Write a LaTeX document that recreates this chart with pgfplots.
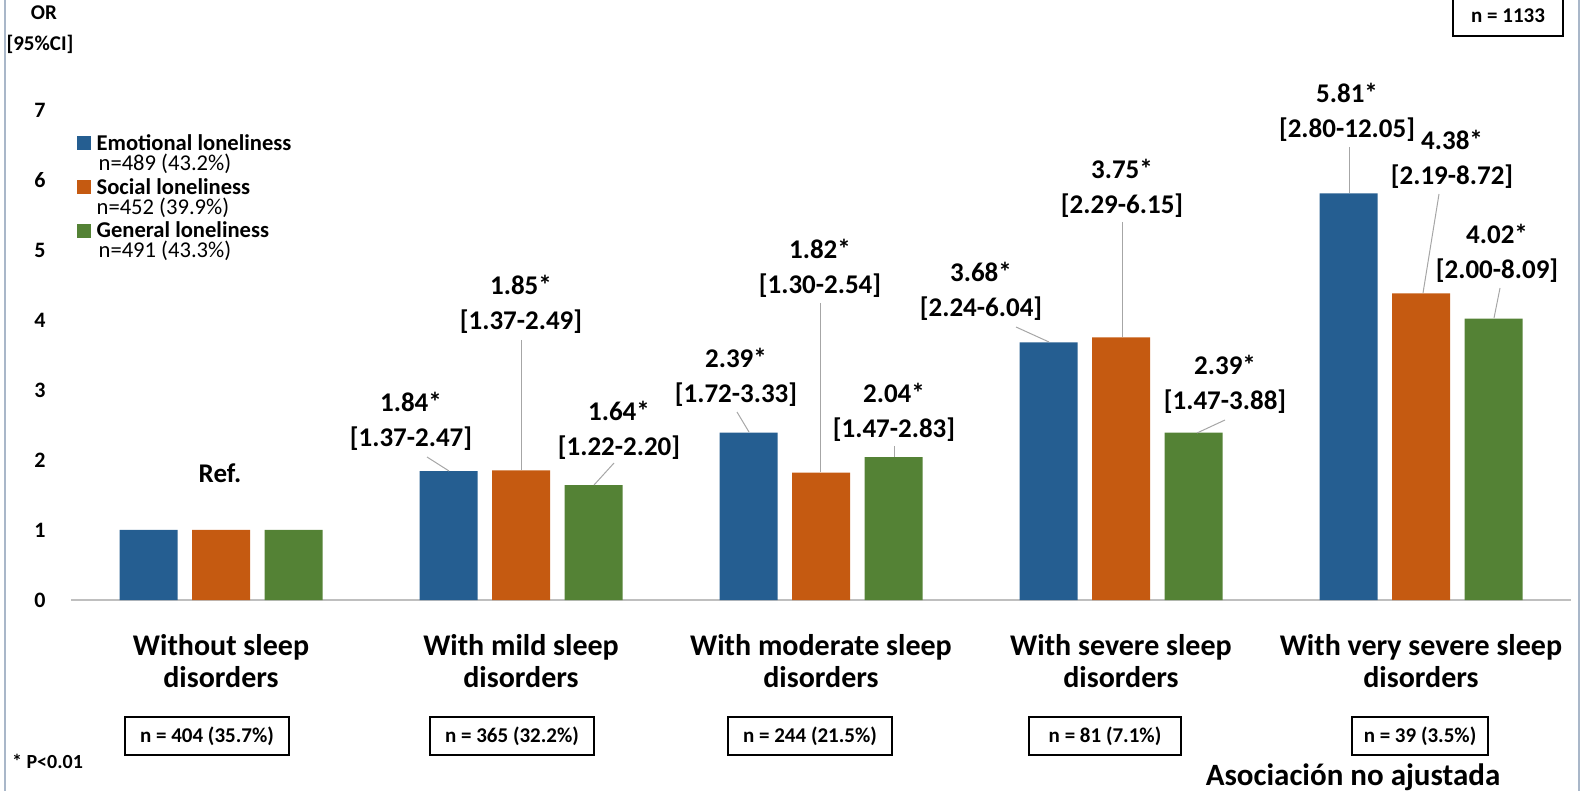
\documentclass[border=0pt]{standalone}
\usepackage{fontspec}
\setmainfont{Carlito}
\usepackage{pgfplots}
\pgfplotsset{compat=1.18}
\definecolor{cEmo}{HTML}{255E91}
\definecolor{cSoc}{HTML}{C55A11}
\definecolor{cGen}{HTML}{548235}
\definecolor{frameC}{HTML}{A9B7C9}
\definecolor{leadC}{HTML}{A6A6A6}
\definecolor{axC}{HTML}{BFBFBF}
\newcommand{\lab}[4]{\node[align=center, font=\fontsize{13.5}{17.5}\selectfont\bfseries, inner sep=0pt] at (#1,#2) {#3\\{}#4};}
\newcommand{\nbox}[3]{\node[draw=black, line width=0.7pt, minimum height=19pt, minimum width=#2, inner xsep=4pt, font=\fontsize{10.5}{11}\selectfont\bfseries] at (#1,736) {#3};}
\begin{document}
\begin{tikzpicture}
\path[use as bounding box] (-35.5pt,-95.5pt) rectangle (761pt,300pt);
\begin{axis}[
 at={(0pt,0pt)}, anchor=south west,
 width=750pt, height=300pt, scale only axis,
 xmin=-0.5, xmax=4.5, ymin=0, ymax=8.5714,
 ybar=7.25pt, bar width=29pt,
 axis x line*=bottom, axis y line*=left,
 x axis line style={draw=axC, line width=1pt, -},
 y axis line style={draw=none},
 xtick={0,1,2,3,4}, ytick={0,1,...,7},
 major tick length=0pt,
 xticklabels={Without sleep\\disorders, With mild sleep\\disorders, With moderate sleep\\disorders, With severe sleep\\disorders, With very severe sleep\\disorders},
 xticklabel style={align=center, font=\fontsize{15}{16}\selectfont\bfseries, yshift=-13.5pt},
 yticklabel style={font=\fontsize{11}{11}\selectfont\bfseries, anchor=center, xshift=-15.5pt},
 /pgf/number format/assume math mode=true,
 clip=false,
 legend style={at={(rel axis cs:0.0035,0.78)}, anchor=north west, draw=none, fill=none,
   font=\fontsize{11.3}{10}\selectfont, inner sep=0pt, row sep=0.5pt,
   nodes={align=left, inner sep=1pt}},
 legend cell align=left,
 legend image code/.code={\fill[#1] (0.5pt,2pt) rectangle (7.5pt,9pt);},
]
\addplot[fill=cEmo, draw=none] coordinates {(0,1) (1,1.84) (2,2.39) (3,3.68) (4,5.81)};
\addlegendentry{\hspace*{2pt}\textbf{Emotional loneliness}\\\hspace*{3pt}n=489 (43.2\%)}
\addplot[fill=cSoc, draw=none] coordinates {(0,1) (1,1.85) (2,1.82) (3,3.75) (4,4.38)};
\addlegendentry{\hspace*{2pt}\textbf{Social loneliness}\\\hspace*{2pt}n=452 (39.9\%)}
\addplot[fill=cGen, draw=none] coordinates {(0,1) (1,1.64) (2,2.04) (3,2.39) (4,4.02)};
\addlegendentry{\hspace*{2pt}\textbf{General loneliness}\\\hspace*{3pt}n=491 (43.3\%)}
\end{axis}
\begin{scope}[shift={(-35.5pt,300pt)}, x=0.5pt, y=-0.5pt]
 \draw[frameC, line width=0.75pt] (5,0) -- (5,791);
 \draw[frameC, line width=0.75pt] (1579,0) -- (1579,791);
 % axis title
 \node[font=\fontsize{10.5}{10.5}\selectfont\bfseries] at (44,13) {OR};
 \node[font=\fontsize{10.5}{10.5}\selectfont\bfseries] at (40,44) {[95\%CI]};
 \node[draw=black, line width=0.7pt, minimum height=20pt, minimum width=55pt, inner xsep=5pt, font=\fontsize{10.5}{11}\selectfont\bfseries] at (1508,16) {n = 1133};
 % leader lines
 \begin{scope}[leadC, line width=0.5pt]
 \draw (427,457) -- (449,471);
 \draw (521,340) -- (521,470);
 \draw (614,463) -- (594,485);
 \draw (737,412) -- (749,432);
 \draw (820,303) -- (820,472);
 \draw (894,446) -- (894,457);
 \draw (1016,327) -- (1049,342);
 \draw (1122,222) -- (1122,337);
 \draw (1225,420) -- (1197,433);
 \draw (1349,147) -- (1349,193);
 \draw (1439,194) -- (1423,293);
 \draw (1500,288) -- (1494,318);
 \end{scope}
 % labels
 \node[font=\fontsize{13.5}{13.5}\selectfont\bfseries] at (220,473) {Ref.};
 \lab{411}{421}{1.84*}{[1.37-2.47]}
 \lab{521}{304}{1.85*}{[1.37-2.49]}
 \lab{619}{430}{1.64*}{[1.22-2.20]}
 \lab{736}{377}{2.39*}{[1.72-3.33]}
 \lab{820}{268}{1.82*}{[1.30-2.54]}
 \lab{894}{412}{2.04*}{[1.47-2.83]}
 \lab{981}{291}{3.68*}{[2.24-6.04]}
 \lab{1122}{188}{3.75*}{[2.29-6.15]}
 \lab{1225}{384}{2.39*}{[1.47-3.88]}
 \lab{1347}{112}{5.81*}{[2.80-12.05]}
 \lab{1452}{159}{4.38*}{[2.19-8.72]}
 \lab{1497}{253}{4.02*}{[2.00-8.09]}
 % n boxes
 \nbox{207}{82pt}{n = 404 (35.7\%)}
 \nbox{512}{82pt}{n = 365 (32.2\%)}
 \nbox{810}{82pt}{n = 244 (21.5\%)}
 \nbox{1105}{76pt}{n = 81 (7.1\%)}
 \nbox{1420}{68pt}{n = 39 (3.5\%)}
 \node[anchor=west, font=\fontsize{10}{10}\selectfont\bfseries] at (5,761) {* P<0.01};
 \node[font=\fontsize{15.5}{16}\selectfont\bfseries] at (1353,777) {Asociación no ajustada};
\end{scope}
\end{tikzpicture}
\end{document}
